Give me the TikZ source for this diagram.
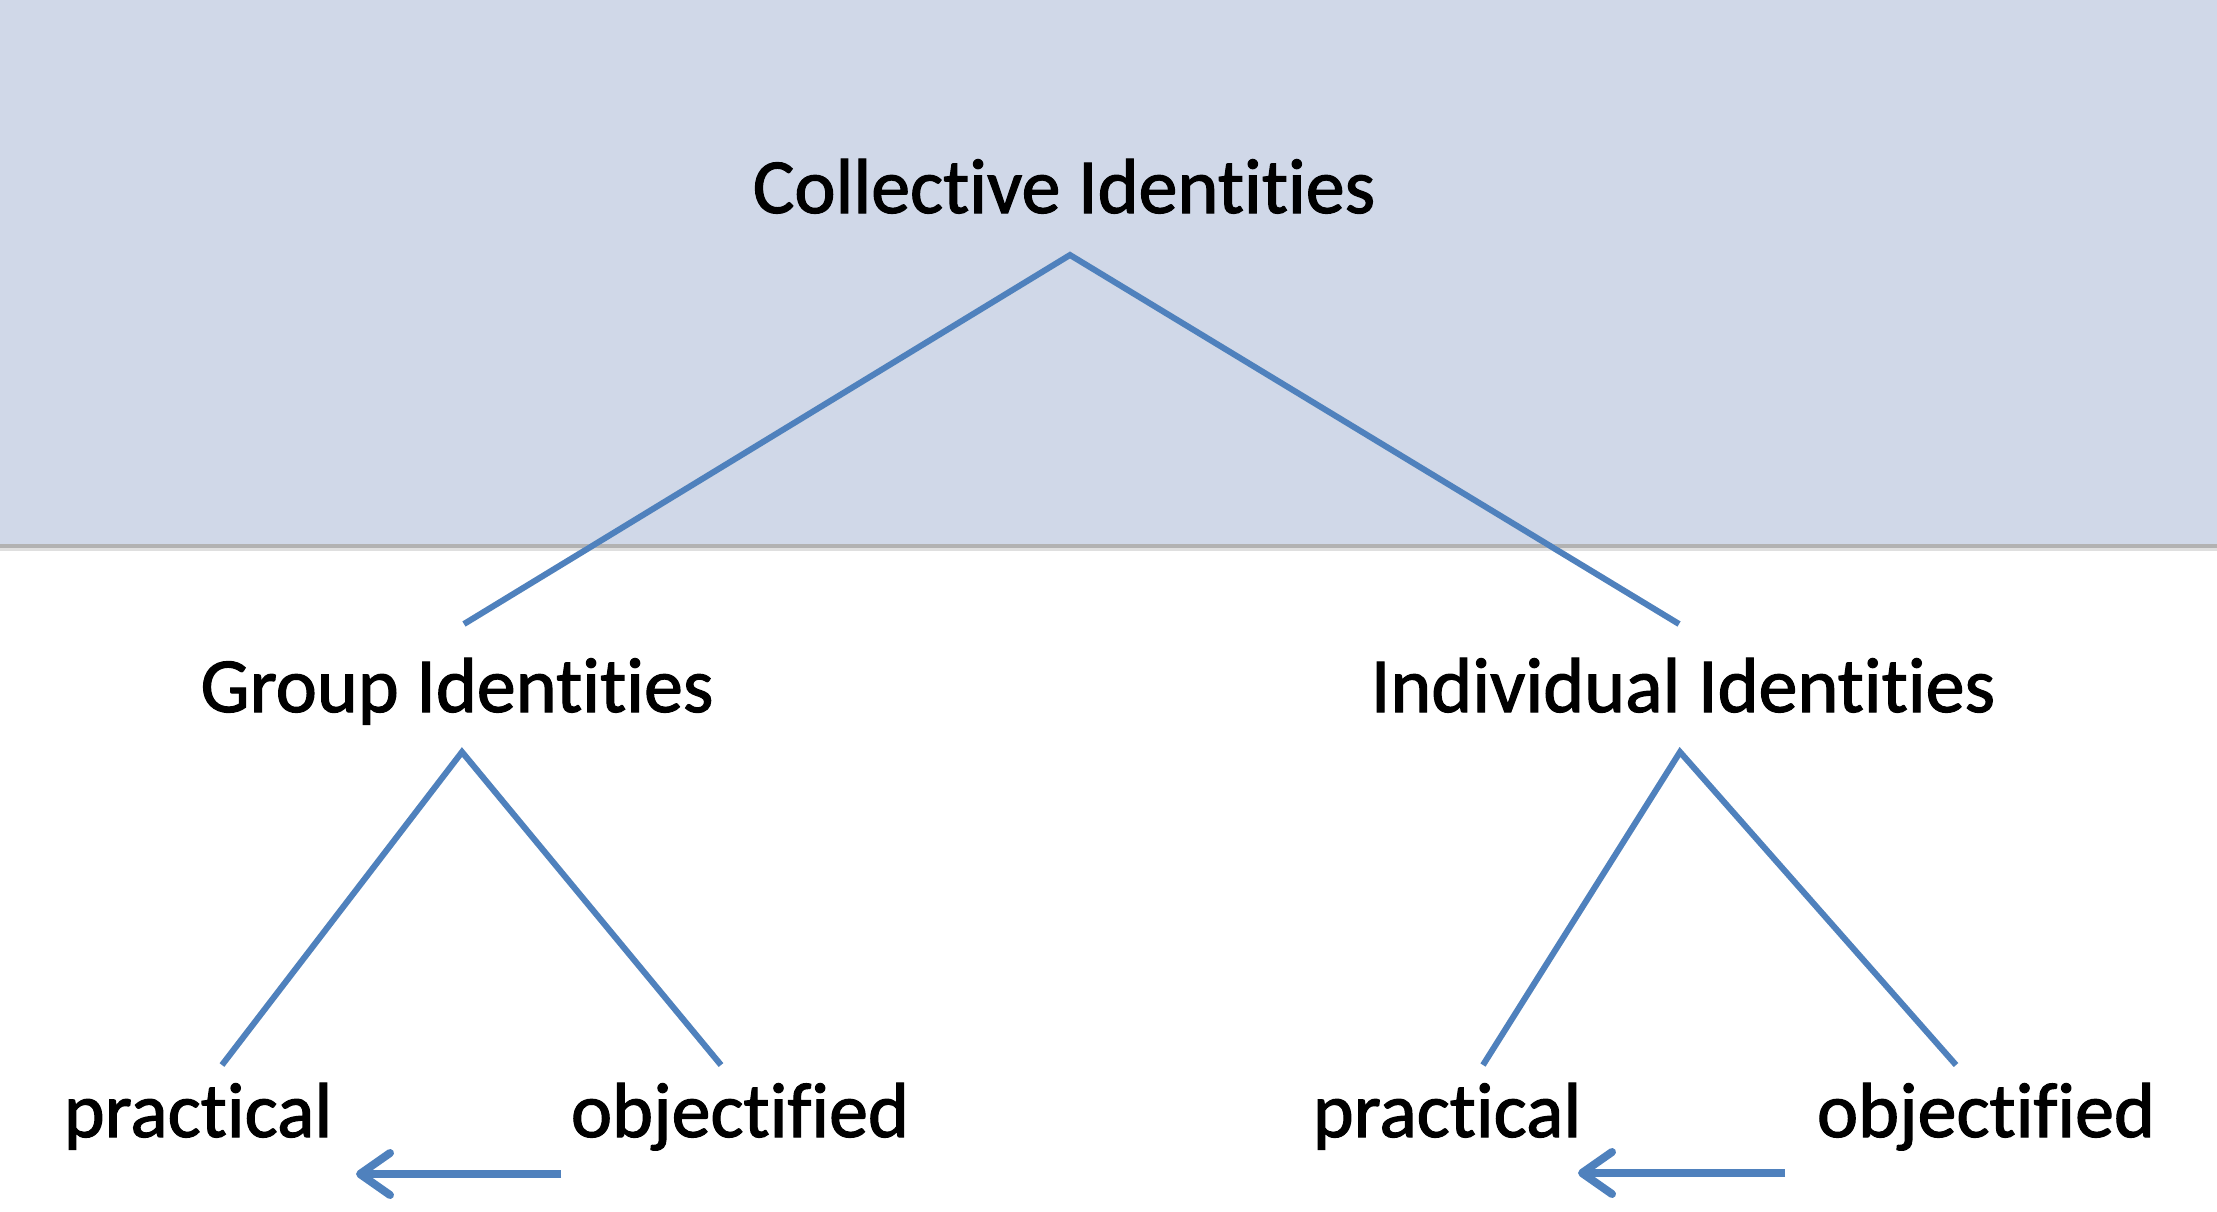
\documentclass[tikz,border=0pt]{standalone}
\usepackage{fontspec}
\setmainfont[Ligatures=NoCommon,FakeBold=1.5]{Carlito}
\usetikzlibrary{calc,arrows.meta}
\definecolor{bandblue}{HTML}{D0D8E8}
\definecolor{lineblue}{HTML}{4F81BD}
\definecolor{shadowgray}{HTML}{D8D8D8}
\tikzset{
  lbl/.style={anchor=base,inner sep=0pt,font=\fontsize{78}{90}\selectfont,text=black},
  treeline/.style={draw=lineblue,line width=6pt},
  treeshadow/.style={draw=shadowgray,line width=6pt,opacity=0.6},
  flowarrow/.style={draw=lineblue,line width=8pt,-{Straight Barb[length=30pt,width=42pt,line width=8pt,round]}}
}
\begin{document}
\begin{tikzpicture}[x=1pt,y=-1pt]
\useasboundingbox (0,0) rectangle (2217,1212);
\fill[white] (0,0) rectangle (2217,1212);
\fill[bandblue] (0,0) rectangle (2217,545);
\fill[gray!60] (0,544) rectangle (2217,548);
\fill[gray!25] (0,548) rectangle (2217,551);

\node[lbl] (coll) at (1064,213) {Collective Identities};
\node[lbl] (grp) at (457,712) {Group Identities};
\node[lbl] (ind) at (1683,712) {Individual Identities};
\node[lbl] (pracL) at (198,1137) {practical};
\node[lbl] (objL) at (740,1137) {objectified};
\node[lbl] (pracR) at (1447,1137) {practical};
\node[lbl] (objR) at (1986,1137) {objectified};

% shadows
\begin{scope}[shift={(3,4)}]
\draw[treeshadow] ($(grp.base)+(7,-88)$) -- ($(coll.base)+(6,42)$) -- ($(ind.base)+(-4,-88)$);
\draw[treeshadow] ($(pracL.base)+(24,-72)$) -- ($(grp.base)+(5,40)$) -- ($(objL.base)+(-19,-72)$);
\draw[treeshadow] ($(pracR.base)+(36,-72)$) -- ($(ind.base)+(-3,40)$) -- ($(objR.base)+(-30,-72)$);
\end{scope}

% tree connectors
\draw[treeline] ($(grp.base)+(7,-88)$) -- ($(coll.base)+(6,42)$) -- ($(ind.base)+(-4,-88)$);
\draw[treeline] ($(pracL.base)+(24,-72)$) -- ($(grp.base)+(5,40)$) -- ($(objL.base)+(-19,-72)$);
\draw[treeline] ($(pracR.base)+(36,-72)$) -- ($(ind.base)+(-3,40)$) -- ($(objR.base)+(-30,-72)$);

% arrows
\draw[flowarrow] ($(objL.base)+(-179,37)$) -- ($(pracL.base)+(158,37)$);
\draw[flowarrow] ($(objR.base)+(-201,36)$) -- ($(pracR.base)+(131,36)$);
\end{tikzpicture}
\end{document}
